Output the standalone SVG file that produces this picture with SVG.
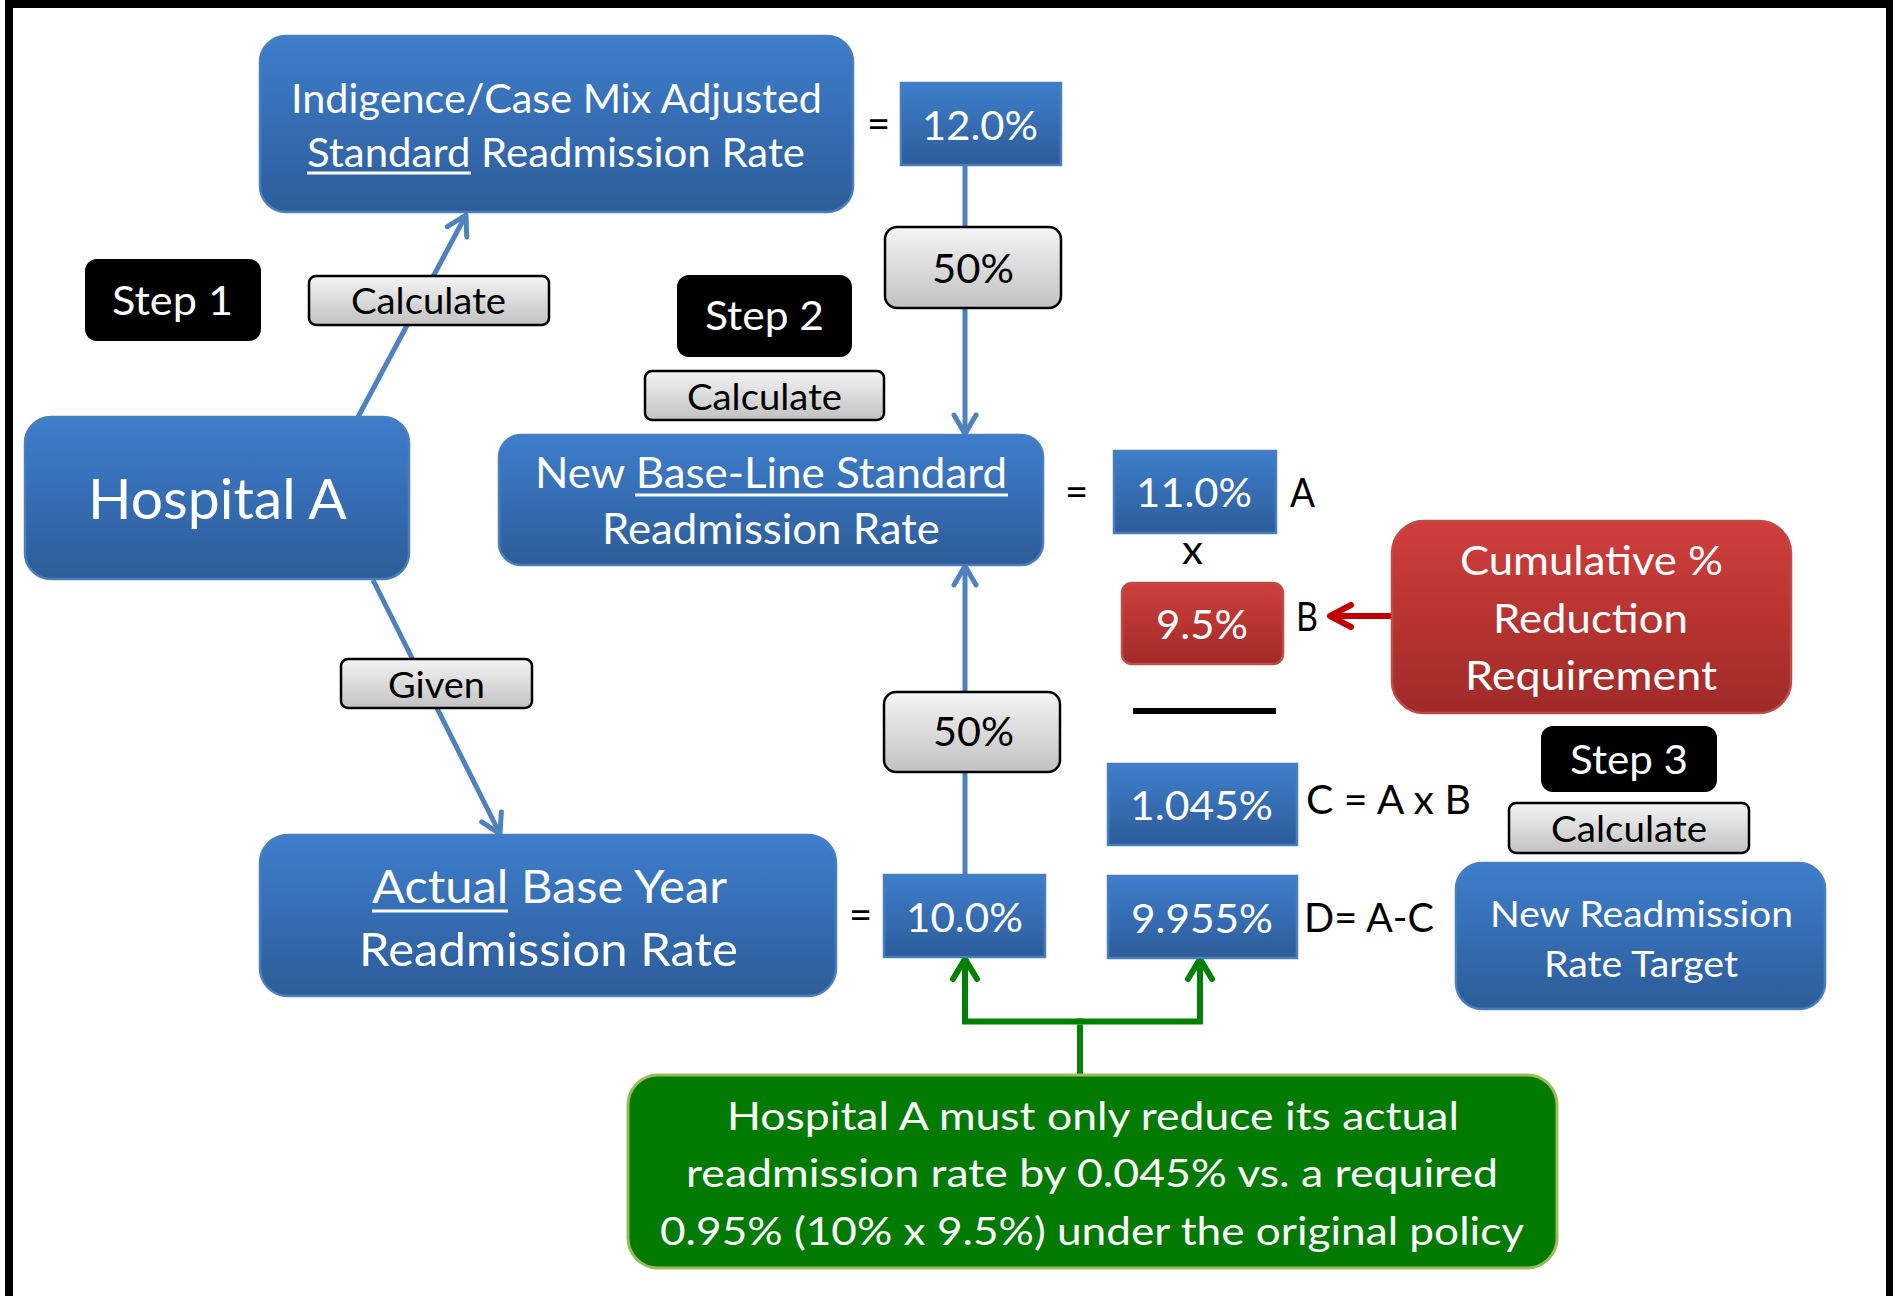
<svg xmlns="http://www.w3.org/2000/svg" width="1898" height="1296" viewBox="0 0 1898 1296">
<style>
text{font-family:Lato,"Open Sans","Liberation Sans",sans-serif;}
.w{fill:#fff;}
.k{fill:#000;}
.blue{fill:url(#gBlue);stroke:#4a7ebb;stroke-width:2.5;}
.red{fill:url(#gRed);stroke:#be4b48;stroke-width:2.5;}
.gray{fill:url(#gGray);stroke:#000;stroke-width:2.5;}
.step{fill:#000;}
.green{fill:#007a00;stroke:#9bbb59;stroke-width:3;}
.ul{stroke:#fff;stroke-width:3;}
.cb{fill:none;stroke:#4f81bd;stroke-width:5;marker-end:url(#mBlue);}
.cg{fill:none;stroke:#008000;stroke-width:6;}
.cr{fill:none;stroke:#c00000;stroke-width:6;marker-end:url(#mRed);}
</style>
<defs>
<linearGradient id="gBlue" x1="0" y1="0" x2="0" y2="1"><stop offset="0" stop-color="#3e7ecc"/><stop offset="1" stop-color="#2d5c99"/></linearGradient>
<linearGradient id="gRed" x1="0" y1="0" x2="0" y2="1"><stop offset="0" stop-color="#cf3f3c"/><stop offset="1" stop-color="#a02a28"/></linearGradient>
<linearGradient id="gGray" x1="0" y1="0" x2="0" y2="1"><stop offset="0" stop-color="#f4f4f4"/><stop offset="1" stop-color="#c2c2c2"/></linearGradient>
<marker id="mBlue" markerUnits="userSpaceOnUse" markerWidth="30" markerHeight="30" refX="0" refY="0" orient="auto" overflow="visible"><path d="M-19,-11 L0,0 L-19,11" fill="none" stroke="#4f81bd" stroke-width="5" stroke-linecap="round" stroke-linejoin="round"/></marker>
<marker id="mGreen" markerUnits="userSpaceOnUse" markerWidth="30" markerHeight="30" refX="0" refY="0" orient="auto" overflow="visible"><path d="M-20,-12 L0,0 L-20,12" fill="none" stroke="#008000" stroke-width="6" stroke-linecap="round" stroke-linejoin="round"/></marker>
<marker id="mRed" markerUnits="userSpaceOnUse" markerWidth="30" markerHeight="30" refX="0" refY="0" orient="auto" overflow="visible"><path d="M-21,-11 L0,0 L-21,11" fill="none" stroke="#c00000" stroke-width="6" stroke-linecap="round" stroke-linejoin="round"/></marker>
</defs>
<rect width="1898" height="1296" fill="#fff"/>
<g id="frame" fill="#000">
<rect x="5" y="0" width="1888" height="8"/>
<rect x="5" y="0" width="8" height="1296"/>
<rect x="1886" y="0" width="7" height="1296"/>
</g>
<g id="connectors">
<path class="cb" d="M358,417 L466,215"/>
<path class="cb" d="M373,580 L500,834"/>
<path class="cb" d="M965,165 L965,434"/>
<path class="cb" d="M965,875 L965,566"/>
<path class="cr" d="M1392,616 L1330,616"/>
<path class="cg" d="M1083,1021.5 H965 V959" stroke-linejoin="miter" marker-end="url(#mGreen)"/>
<path class="cg" d="M1077,1021.5 H1200 V959" stroke-linejoin="miter" marker-end="url(#mGreen)"/>
<path class="cg" d="M1080,1025 V1075"/>
</g>
<g id="indigence">
<rect class="blue" x="260" y="36" width="593" height="176" rx="26"/>
<text class="w" x="291" y="113" font-size="41" textLength="531" lengthAdjust="spacingAndGlyphs">Indigence/Case Mix Adjusted</text>
<text class="w" x="307" y="166.5" font-size="41" textLength="498" lengthAdjust="spacingAndGlyphs">Standard Readmission Rate</text>
<line class="ul" x1="307" y1="173" x2="471" y2="173"/>
</g>
<g id="eq1"><text class="k" x="867" y="138" font-size="40">=</text></g>
<g id="v12">
<rect class="blue" x="901" y="83" width="160" height="82"/>
<text class="w" x="922" y="140" font-size="41" textLength="116" lengthAdjust="spacingAndGlyphs">12.0%</text>
</g>
<g id="step1">
<rect class="step" x="85" y="259" width="176" height="82" rx="12"/>
<text class="w" x="112" y="315" font-size="41" textLength="121" lengthAdjust="spacingAndGlyphs">Step 1</text>
</g>
<g id="calc1">
<rect class="gray" x="309" y="276" width="240" height="49" rx="7"/>
<text class="k" x="351" y="314" font-size="37" textLength="155" lengthAdjust="spacingAndGlyphs">Calculate</text>
</g>
<g id="pct50a">
<rect class="gray" x="885" y="227" width="176" height="81" rx="12"/>
<text class="k" x="932" y="283" font-size="41" textLength="82" lengthAdjust="spacingAndGlyphs">50%</text>
</g>
<g id="step2">
<rect class="step" x="677" y="275" width="175" height="82" rx="12"/>
<text class="w" x="705" y="330" font-size="41" textLength="119" lengthAdjust="spacingAndGlyphs">Step 2</text>
</g>
<g id="calc2">
<rect class="gray" x="645" y="371" width="239" height="49" rx="7"/>
<text class="k" x="687" y="410" font-size="37" textLength="155" lengthAdjust="spacingAndGlyphs">Calculate</text>
</g>
<g id="hospitalA">
<rect class="blue" x="25" y="417" width="384" height="162" rx="26"/>
<text class="w" x="88" y="519" font-size="57" textLength="259" lengthAdjust="spacingAndGlyphs">Hospital A</text>
</g>
<g id="newbase">
<rect class="blue" x="499" y="435" width="544" height="130" rx="22"/>
<text class="w" x="535" y="488" font-size="43" textLength="472" lengthAdjust="spacingAndGlyphs">New Base-Line Standard</text>
<line class="ul" x1="635" y1="495" x2="1008" y2="495"/>
<text class="w" x="602" y="544" font-size="43" textLength="338" lengthAdjust="spacingAndGlyphs">Readmission Rate</text>
</g>
<g id="eq2"><text class="k" x="1065" y="506" font-size="40">=</text></g>
<g id="v11">
<rect class="blue" x="1114" y="451" width="162" height="82"/>
<text class="w" x="1136" y="507" font-size="41" textLength="116" lengthAdjust="spacingAndGlyphs">11.0%</text>
</g>
<g id="labelA"><text class="k" x="1290" y="507" font-size="41" textLength="25" lengthAdjust="spacingAndGlyphs">A</text></g>
<g id="times"><text class="k" x="1182" y="564" font-size="41" textLength="21" lengthAdjust="spacingAndGlyphs">x</text></g>
<g id="v95">
<rect class="red" x="1122" y="583" width="161" height="81" rx="10"/>
<text class="w" x="1156" y="639" font-size="41" textLength="92" lengthAdjust="spacingAndGlyphs">9.5%</text>
</g>
<g id="labelB"><text class="k" x="1296" y="631" font-size="41" textLength="22" lengthAdjust="spacingAndGlyphs">B</text></g>
<g id="cumulative">
<rect class="red" x="1392" y="521" width="399" height="192" rx="32"/>
<text class="w" x="1460" y="575" font-size="41" textLength="263" lengthAdjust="spacingAndGlyphs">Cumulative %</text>
<text class="w" x="1493" y="633" font-size="41" textLength="195" lengthAdjust="spacingAndGlyphs">Reduction</text>
<text class="w" x="1465" y="690" font-size="41" textLength="252" lengthAdjust="spacingAndGlyphs">Requirement</text>
</g>
<g id="rule"><line x1="1133" y1="711" x2="1276" y2="711" stroke="#000" stroke-width="6"/></g>
<g id="pct50b">
<rect class="gray" x="884" y="692" width="176" height="80" rx="12"/>
<text class="k" x="933" y="746" font-size="41" textLength="81" lengthAdjust="spacingAndGlyphs">50%</text>
</g>
<g id="v1045">
<rect class="blue" x="1108" y="764" width="189" height="81"/>
<text class="w" x="1130" y="820" font-size="41" textLength="143" lengthAdjust="spacingAndGlyphs">1.045%</text>
</g>
<g id="labelC"><text class="k" x="1306" y="814" font-size="41" textLength="165" lengthAdjust="spacingAndGlyphs">C = A x B</text></g>
<g id="step3">
<rect class="step" x="1541" y="726" width="176" height="66" rx="12"/>
<text class="w" x="1570" y="774" font-size="41" textLength="118" lengthAdjust="spacingAndGlyphs">Step 3</text>
</g>
<g id="calc3">
<rect class="gray" x="1509" y="803" width="240" height="50" rx="7"/>
<text class="k" x="1551" y="842" font-size="37" textLength="156" lengthAdjust="spacingAndGlyphs">Calculate</text>
</g>
<g id="eq3"><text class="k" x="849" y="929" font-size="40">=</text></g>
<g id="v10">
<rect class="blue" x="884" y="875" width="161" height="82"/>
<text class="w" x="906" y="932" font-size="41" textLength="117" lengthAdjust="spacingAndGlyphs">10.0%</text>
</g>
<g id="v9955">
<rect class="blue" x="1108" y="876" width="189" height="82"/>
<text class="w" x="1131" y="933" font-size="41" textLength="142" lengthAdjust="spacingAndGlyphs">9.955%</text>
</g>
<g id="labelD"><text class="k" x="1304" y="932" font-size="41" textLength="130" lengthAdjust="spacingAndGlyphs">D= A-C</text></g>
<g id="newtarget">
<rect class="blue" x="1456" y="863" width="369" height="146" rx="26"/>
<text class="w" x="1490" y="927" font-size="37" textLength="303" lengthAdjust="spacingAndGlyphs">New Readmission</text>
<text class="w" x="1544" y="977" font-size="37" textLength="194" lengthAdjust="spacingAndGlyphs">Rate Target</text>
</g>
<g id="given">
<rect class="gray" x="341" y="659" width="191" height="49" rx="7"/>
<text class="k" x="388" y="697.5" font-size="36" textLength="97" lengthAdjust="spacingAndGlyphs">Given</text>
</g>
<g id="actual">
<rect class="blue" x="260" y="835" width="576" height="161" rx="28"/>
<text class="w" x="372" y="903" font-size="47" textLength="355" lengthAdjust="spacingAndGlyphs">Actual Base Year</text>
<line class="ul" x1="372" y1="911" x2="508" y2="911"/>
<text class="w" x="359" y="966" font-size="47" textLength="379" lengthAdjust="spacingAndGlyphs">Readmission Rate</text>
</g>
<g id="note">
<rect class="green" x="628" y="1075" width="929" height="193" rx="30"/>
<text class="w" x="727" y="1130" font-size="39" textLength="732" lengthAdjust="spacingAndGlyphs">Hospital A must only reduce its actual</text>
<text class="w" x="686" y="1187" font-size="39" textLength="812" lengthAdjust="spacingAndGlyphs">readmission rate by 0.045% vs. a required</text>
<text class="w" x="660" y="1245" font-size="39" textLength="864" lengthAdjust="spacingAndGlyphs">0.95% (10% x 9.5%) under the original policy</text>
</g>
</svg>
